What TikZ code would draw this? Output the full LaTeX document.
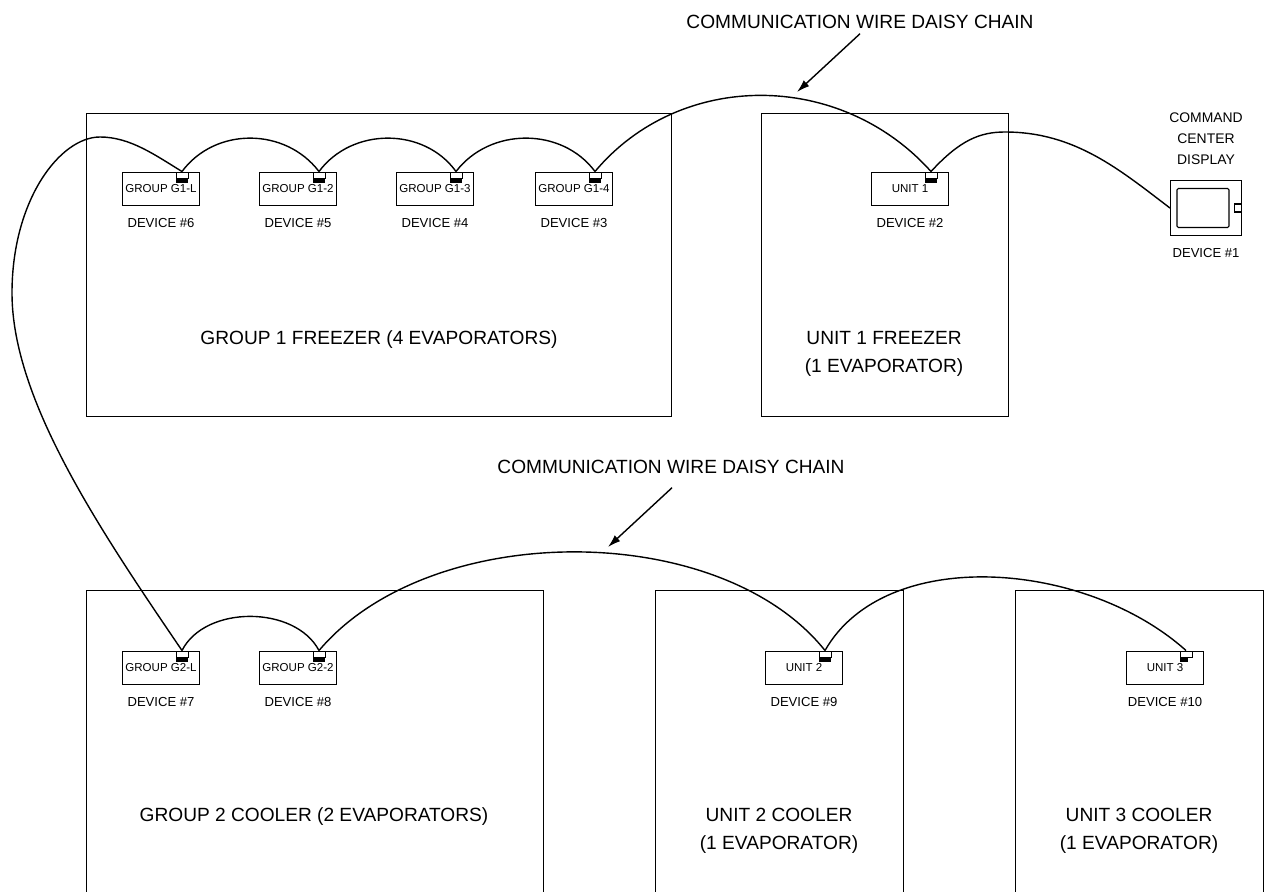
\documentclass[tikz,border=0pt]{standalone}
\usepackage{fontspec}
\setmainfont{Liberation Sans}
\usepackage{tikz}
\usetikzlibrary{shapes,arrows,arrows.meta,positioning,calc}
\tikzset{
    room/.style={draw,thick,anchor=north west,inner sep=0pt},
    roomlabel/.style={align=center,font=\fontsize{13.6}{20}\selectfont},
    devbox/.style={draw,thick,minimum width=77\unit,minimum height=33\unit,inner sep=0pt,font=\fontsize{8.2}{10}\selectfont},
    devlabel/.style={font=\fontsize{9.3}{10}\selectfont},
    port/.style={draw,semithick,minimum width=12\unit,minimum height=6\unit,inner sep=0pt},
    blob/.style={fill=black,minimum width=12\unit,minimum height=4\unit,inner sep=0pt,anchor=north},
    wire/.style={line width=1pt},
    callout/.style={font=\fontsize{13.6}{16}\selectfont},
    pointer/.style={line width=1pt,-{Latex[length=3.2mm,width=2mm]}}
}
\newlength{\unit}
\setlength{\unit}{0.025cm}
\begin{document}
\begin{tikzpicture}[x=0.025cm,y=-0.025cm]
    \useasboundingbox (0,0) rectangle (1266,892);
    \clip (0,0) rectangle (1266,892);

    % Rooms
    \node[room,minimum width=585\unit,minimum height=303\unit] (freezerA) at (86,113) {};
    \node[room,minimum width=247\unit,minimum height=303\unit] (freezerB) at (761,113) {};
    \node[room,minimum width=457\unit,minimum height=320\unit] (coolerA) at (86,590) {};
    \node[room,minimum width=248\unit,minimum height=320\unit] (coolerB) at (655,590) {};
    \node[room,minimum width=248\unit,minimum height=320\unit] (coolerC) at (1015,590) {};

    \node[roomlabel] (freezerAlabel) at (379,340) {GROUP 1 FREEZER (4 EVAPORATORS)};
    \node[roomlabel] (freezerBlabel) at (884,354) {UNIT 1 FREEZER\\(1 EVAPORATOR)};
    \node[roomlabel] (coolerAlabel) at (314,817) {GROUP 2 COOLER (2 EVAPORATORS)};
    \node[roomlabel] (coolerBlabel) at (779,831) {UNIT 2 COOLER\\(1 EVAPORATOR)};
    \node[roomlabel] (coolerClabel) at (1139,831) {UNIT 3 COOLER\\(1 EVAPORATOR)};

    % Controllers
    \foreach \name/\x/\y/\txt/\dev in {
        gA/161/189/GROUP G1-L/6, gB/298/189/GROUP G1-2/5,
        gC/435/189/GROUP G1-3/4, gD/574/189/GROUP G1-4/3,
        gG/910/189/UNIT 1/2, gE/161/668/GROUP G2-L/7,
        gF/298/668/GROUP G2-2/8, gH/804/668/UNIT 2/9} {
        \node[devbox] (\name) at (\x,\y) {\txt};
        \node[port] (\name port) at ($(\name.north)+(21,3)$) {};
        \node[blob] (\name blob) at (\name port.south) {};
        \node[devlabel,below=7\unit of \name] (\name dev) {DEVICE \#\dev};
    }
    \node[devbox] (gI) at (1165,668) {UNIT 3};
    \node[port] (gIport) at ($(gI.north)+(21,3)$) {};
    \node[blob,minimum width=8\unit,anchor=north west] (gIblob) at (gIport.south west) {};
    \node[devlabel,below=7\unit of gI] (gIdev) {DEVICE \#10};

    % Display
    \node[draw,thick,minimum width=71\unit,minimum height=55\unit,inner sep=0pt] (display) at (1206,208) {};
    \node[draw,thick,rounded corners=1pt,minimum width=52\unit,minimum height=39\unit,inner sep=0pt] (screen) at (1203,208) {};
    \node[draw,thick,minimum width=7\unit,minimum height=8\unit,inner sep=0pt,anchor=east] (knob) at (display.east) {};
    \node[align=center,font=\fontsize{9.9}{15}\selectfont,above=10\unit of display] (displaylabel) {COMMAND\\CENTER\\DISPLAY};
    \node[devlabel,below=7\unit of display] (displaydev) {DEVICE \#1};

    % Upper daisy chain
    \coordinate (loopA) at (100,137);
    \coordinate (loopB) at (12,293);
    \draw[wire] (gEport.north) .. controls (100,530) and (12,400) .. (loopB)
        .. controls (12,200) and (60,137) .. (loopA)
        .. controls (130,137) and (155,155) .. (gAport.north);
    \draw[wire] (gAport.north) .. controls (215,127) and (285,127) .. (gBport.north);
    \draw[wire] (gBport.north) .. controls (352,127) and (424,127) .. (gCport.north);
    \draw[wire] (gCport.north) .. controls (490,127) and (562,127) .. (gDport.north);
    \draw[wire] (gDport.north) .. controls (680,70) and (840,70) .. (gGport.north);
    \coordinate (loopC) at (1005,132);
    \draw[wire] (gGport.north) .. controls (960,140) and (980,132) .. (loopC)
        .. controls (1075,132) and (1120,170) .. (display.west);

    % Lower daisy chain
    \draw[wire] (gEport.north) .. controls (205,605) and (295,605) .. (gFport.north);
    \draw[wire] (gFport.north) .. controls (430,519) and (720,519) .. (gHport.north);
    \draw[wire] (gHport.north) .. controls (885,545) and (1085,560) .. (gIport.north);

    % Callouts
    \node[callout] (topnote) at (860,22) {COMMUNICATION WIRE DAISY CHAIN};
    \node[callout] (midnote) at (671,467) {COMMUNICATION WIRE DAISY CHAIN};
    \coordinate (toptip) at (797,92);
    \coordinate (midtip) at (608,547);
    \draw[pointer] (topnote.south) -- (toptip);
    \draw[pointer] ($(midnote.south)+(1,9)$) -- (midtip);
\end{tikzpicture}
\end{document}
